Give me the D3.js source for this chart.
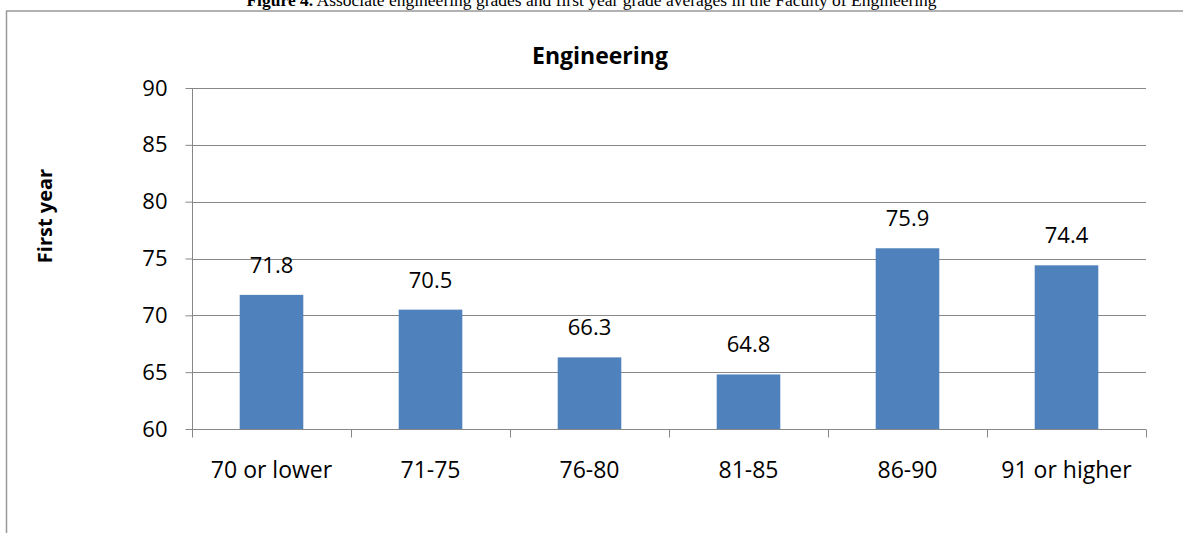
<!DOCTYPE html>
<html>
<head>
<meta charset="utf-8">
<script src="https://cdn.jsdelivr.net/npm/d3@7"></script>
<style>
  html, body { margin: 0; padding: 0; background: #fff; }
  svg { display: block; }
</style>
</head>
<body>
<svg id="chart" width="1183" height="533"></svg>
<script>
const categories = ["70 or lower", "71-75", "76-80", "81-85", "86-90", "91 or higher"];
const firstYear = [71.8, 70.5, 66.3, 64.8, 75.9, 74.4];
const yTicks = [60, 65, 70, 75, 80, 85, 90];
const chartTitle = "Engineering";
const yLabel = "First year";
const captionBold = "Figure 4.";
const captionRest = " Associate engineering grades and first year grade averages in the Faculty of Engineering";

const svg = d3.select("#chart");
const W = 1183, H = 533;
const plot = { left: 192, right: 1146, top: 88, bottom: 429 };
const font = "'Open Sans', 'Noto Sans', sans-serif";
const gridColor = "#878787";

// caption (cut off at top, as in the source page)
const cap = svg.append("text")
  .attr("x", 591.5).attr("y", 6)
  .attr("text-anchor", "middle")
  .attr("font-family", "'Liberation Serif', 'Times New Roman', serif")
  .attr("font-size", 17.5).attr("fill", "#000");
cap.append("tspan").attr("font-weight", "bold").text(captionBold);
cap.append("tspan").text(captionRest);

// frame
svg.append("line").attr("x1", 6).attr("x2", W).attr("y1", 11).attr("y2", 11)
  .attr("stroke", "#999").attr("stroke-width", 1.5);
svg.append("line").attr("x1", 6.5).attr("x2", 6.5).attr("y1", 11).attr("y2", H)
  .attr("stroke", "#999").attr("stroke-width", 1.5);

const y = d3.scaleLinear().domain([60, 90]).range([plot.bottom, plot.top]);
const x = d3.scaleBand().domain(categories).range([plot.left, plot.right])
  .paddingInner(0.6).paddingOuter(0.3);
const xCell = d3.scaleBand().domain(categories).range([plot.left, plot.right]).padding(0);

// gridlines
svg.append("g").selectAll("line").data(yTicks.filter(d => d > 60)).join("line")
  .attr("x1", plot.left).attr("x2", plot.right)
  .attr("y1", d => Math.round(y(d)) + 0.5).attr("y2", d => Math.round(y(d)) + 0.5)
  .attr("stroke", gridColor).attr("stroke-width", 1);

// bars
svg.append("g").selectAll("rect").data(firstYear).join("rect")
  .attr("x", (d, i) => x(categories[i]))
  .attr("width", x.bandwidth())
  .attr("y", d => y(d))
  .attr("height", d => y(60) - y(d))
  .attr("fill", "#4F81BD");

// data labels
svg.append("g").selectAll("text").data(firstYear).join("text")
  .attr("x", (d, i) => x(categories[i]) + x.bandwidth() / 2)
  .attr("y", d => y(d) - 22)
  .attr("text-anchor", "middle")
  .attr("font-family", font).attr("font-size", 22).attr("fill", "#000")
  .text(d => d.toFixed(1));

// y axis
const yAxis = svg.append("g").attr("transform", `translate(${plot.left + 0.5},0)`)
  .call(d3.axisLeft(y).tickValues(yTicks).tickSize(7).tickPadding(18).tickFormat(d3.format("d")));
yAxis.select(".domain").attr("stroke", gridColor).attr("d", `M-0,${plot.top}V${plot.bottom}`);
yAxis.selectAll(".tick line").attr("stroke", gridColor);
yAxis.selectAll(".tick text").attr("font-family", font).attr("font-size", 22).attr("fill", "#000");

// x axis
const xAxis = svg.append("g").attr("transform", `translate(0,${Math.round(plot.bottom) + 0.5})`)
  .call(d3.axisBottom(x).tickSize(0).tickPadding(32));
xAxis.select(".domain").attr("stroke", gridColor).attr("d", `M${plot.left},0H${plot.right}`);
xAxis.selectAll(".tick text").attr("font-family", font).attr("font-size", 23).attr("fill", "#000");
const bounds = categories.map(c => xCell(c)).concat([plot.right]);
xAxis.append("g").selectAll("line").data(bounds).join("line")
  .attr("x1", d => Math.round(d) + 0.5).attr("x2", d => Math.round(d) + 0.5)
  .attr("y1", 0).attr("y2", 8).attr("stroke", gridColor);

// title
svg.append("text").attr("x", 600).attr("y", 64)
  .attr("text-anchor", "middle")
  .attr("font-family", font).attr("font-weight", "bold").attr("font-size", 23)
  .text(chartTitle);

// y label
svg.append("text").attr("transform", `translate(52,216) rotate(-90)`)
  .attr("text-anchor", "middle")
  .attr("font-family", font).attr("font-weight", "bold").attr("font-size", 20)
  .text(yLabel);
</script>
</body>
</html>
